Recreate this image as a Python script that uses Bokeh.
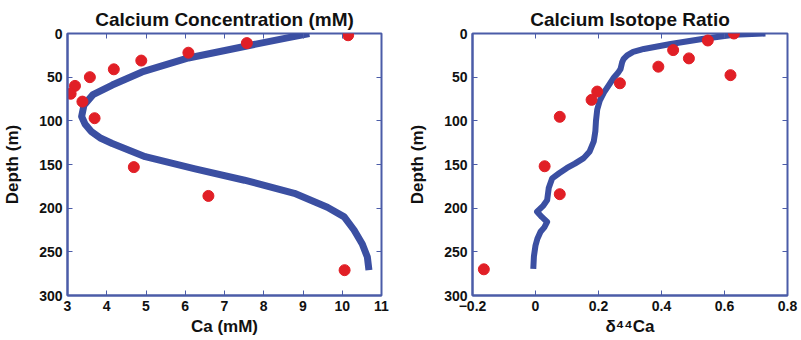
from bokeh.plotting import figure
from bokeh.models import Range1d, LinearAxis, FixedTicker
from bokeh.layouts import row
from bokeh.embed import file_html
from bokeh.resources import INLINE

# ---------- data: Calcium concentration ----------
ca_pts_x = [10.15, 7.57, 6.08, 4.88, 4.18, 3.57, 3.19, 3.08, 3.38, 3.69, 4.69, 6.59, 10.06]
ca_pts_depth = [2, 11, 22, 31, 41, 50, 60, 69, 78, 97, 153, 186, 271]
ca_model_x = [9.16, 8.6, 7.6, 6.08, 4.9, 4.14, 3.65, 3.42, 3.36, 3.45, 3.6, 3.85, 4.14,
              4.98, 6.25, 7.51, 8.78, 9.62, 10.05, 10.3, 10.51, 10.64, 10.68]
ca_model_depth = [0, 5, 14, 28, 44, 59, 70, 82, 95, 104, 112, 120, 126,
                  141, 155, 168, 183, 199, 210, 225, 241, 256, 271]
ca_xticks = [3, 4, 5, 6, 7, 8, 9, 10, 11]

# ---------- data: Calcium isotope ratio ----------
iso_pts_x = [0.63, 0.547, 0.437, 0.487, 0.39, 0.619, 0.268, 0.196, 0.178, 0.077, 0.029, 0.077, -0.164]
iso_pts_depth = [0, 8, 19, 28.5, 38, 47.7, 57, 66.5, 76, 95.4, 152, 184, 270]
iso_model_x = [0.73, 0.63, 0.534, 0.429, 0.344, 0.31, 0.291, 0.28, 0.275, 0.27, 0.262,
               0.249, 0.235, 0.217, 0.204, 0.196, 0.192, 0.19, 0.185, 0.172, 0.153,
               0.125, 0.1, 0.075, 0.053, 0.042, 0.037, 0.025, 0.005, 0.02, 0.037,
               0.028, 0.016, 0.006, 0.0, -0.005, -0.007]
iso_model_depth = [0, 1.5, 6, 12, 17.7, 21, 25, 29, 33, 40.7, 45,
                   50.4, 58, 67.7, 77, 87, 100, 112, 123.5, 135, 142.7,
                   149, 154, 160, 165.8, 177, 190.8, 197, 204, 210, 215.8,
                   222, 227, 235, 242.7, 255, 269.6]
iso_xticks = [-0.2, 0, 0.2, 0.4, 0.6, 0.8]
iso_xlabels = ["-0.2", "0", "0.2", "0.4", "0.6", "0.8"]

depth_ticks = [0, 50, 100, 150, 200, 250, 300]

FRAME = "#4b5ca8"
LINE = "#3b4fa2"
DOT = "#e11f26"
FONT = "Liberation Sans"
TXT = "#111111"


def style(p, xticks, xlabel):
    p.title.text_font = FONT
    p.title.text_font_size = "19px"
    p.title.text_font_style = "bold"
    p.title.text_color = TXT
    p.title.align = "center"
    p.title.standoff = 8
    p.outline_line_color = FRAME
    p.outline_line_width = 2
    p.grid.visible = False
    p.xaxis.ticker = FixedTicker(ticks=xticks)
    p.yaxis.ticker = FixedTicker(ticks=depth_ticks)
    p.xaxis.axis_label = xlabel
    p.yaxis.axis_label = "Depth (m)"
    for ax in p.xaxis + p.yaxis:
        ax.axis_line_color = FRAME
        ax.axis_line_width = 2
        ax.major_tick_line_color = FRAME
        ax.major_tick_in = 5
        ax.major_tick_out = 0
        ax.minor_tick_line_color = None
        ax.major_label_text_font = FONT
        ax.major_label_text_font_size = "14px"
        ax.major_label_text_font_style = "bold"
        ax.major_label_text_color = TXT
        ax.axis_label_text_font = FONT
        ax.axis_label_text_font_size = "17px"
        ax.axis_label_text_font_style = "bold"
        ax.axis_label_text_color = TXT
        ax.major_label_standoff = 5
    p.xaxis.axis_label_standoff = 3
    p.yaxis.axis_label_standoff = 14
    # mirrored inward ticks on top and right (labels not drawn)
    top = LinearAxis(ticker=FixedTicker(ticks=xticks), major_label_text_font_size="1px",
                     major_label_text_color=None,
                     axis_line_color=None, major_tick_line_color=FRAME,
                     major_tick_in=5, major_tick_out=0, minor_tick_line_color=None,
                     major_label_standoff=0)
    right = LinearAxis(ticker=FixedTicker(ticks=depth_ticks), major_label_text_font_size="1px",
                       major_label_text_color=None,
                       axis_line_color=None, major_tick_line_color=FRAME,
                       major_tick_in=5, major_tick_out=0, minor_tick_line_color=None,
                       major_label_standoff=0)
    p.add_layout(top, "above")
    p.add_layout(right, "right")


p1 = figure(width=400, height=340, title="Calcium Concentration (mM)",
            x_range=Range1d(3, 11), y_range=Range1d(300, 0),
            output_backend="svg", toolbar_location=None,
            min_border_left=65, min_border_right=19, min_border_top=33, min_border_bottom=45)
style(p1, ca_xticks, "Ca (mM)")
p1.line(ca_model_x, ca_model_depth, line_color=LINE, line_width=7, line_join="round")
p1.scatter(ca_pts_x, ca_pts_depth, size=11, fill_color=DOT, line_color=DOT)

p2 = figure(width=400, height=340, title="Calcium Isotope Ratio",
            x_range=Range1d(-0.2, 0.8), y_range=Range1d(300, 0),
            output_backend="svg", toolbar_location=None,
            min_border_left=72, min_border_right=13, min_border_top=33, min_border_bottom=45)
style(p2, iso_xticks, "δ⁴⁴Ca")
p2.xaxis[0].major_label_overrides = {t: s for t, s in zip(iso_xticks, iso_xlabels)}
p2.line(iso_model_x, iso_model_depth, line_color=LINE, line_width=6, line_join="round")
p2.scatter(iso_pts_x, iso_pts_depth, size=11, fill_color=DOT, line_color=DOT)

layout = row(p1, p2)
open("out.html", "w").write(file_html(layout, INLINE))
